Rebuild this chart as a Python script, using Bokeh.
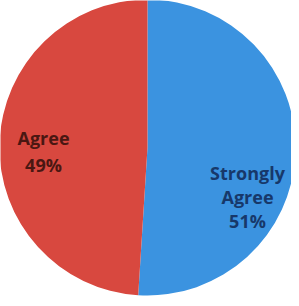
import math
from bokeh.plotting import figure
from bokeh.models import Range1d, ColumnDataSource
from bokeh.core.properties import value
from bokeh.embed import file_html
from bokeh.resources import INLINE

# ---- data ----
categories = ["Strongly Agree", "Agree"]
percents = [51, 49]
label_lines = [["Strongly", "Agree", "51%"], ["Agree", "49%"]]
colors = ["#3B93E0", "#D8483F"]
text_colors = ["#17386A", "#4A1712"]

# ---- layout ----
W, H = 291, 298
cx, cy, R = 147, 151, 148

p = figure(width=W, height=H, output_backend="svg", toolbar_location=None,
           x_range=Range1d(0, W), y_range=Range1d(0, H),
           min_border=0, outline_line_color=None)
p.axis.visible = False
p.grid.visible = False
p.background_fill_color = "white"
p.border_fill_color = "white"

# wedges: first slice starts at 12 o'clock and runs clockwise
total = sum(percents)
start = math.pi / 2
starts, ends = [], []
for v in percents:
    sweep = 2 * math.pi * v / total
    ends.append(start)
    starts.append(start - sweep)
    start -= sweep

src = ColumnDataSource(dict(x=[cx] * len(percents), y=[cy] * len(percents),
                            start=starts, end=ends, color=colors, cat=categories))
p.wedge(x="x", y="y", radius=R, start_angle="start", end_angle="end",
        fill_color="color", line_color=None, source=src)

# labels: block-centre offsets (pixels relative to pie centre) per slice
anchors = [(100, -49), (-104, -4)]
spacing = [24, 27]
tx, ty, tt, tc = [], [], [], []
for i, lines in enumerate(label_lines):
    ax, ay = anchors[i]
    n = len(lines)
    for j, s in enumerate(lines):
        tx.append(cx + ax)
        ty.append(cy + ay - (j - (n - 1) / 2) * spacing[i])
        tt.append(s)
        tc.append(text_colors[i])

p.text(x=tx, y=ty, text=tt, text_color=tc, text_align="center",
       text_baseline="middle", text_font=value("Open Sans"),
       text_font_size="18px", text_font_style="bold")

open("out.html", "w").write(file_html(p, INLINE))
